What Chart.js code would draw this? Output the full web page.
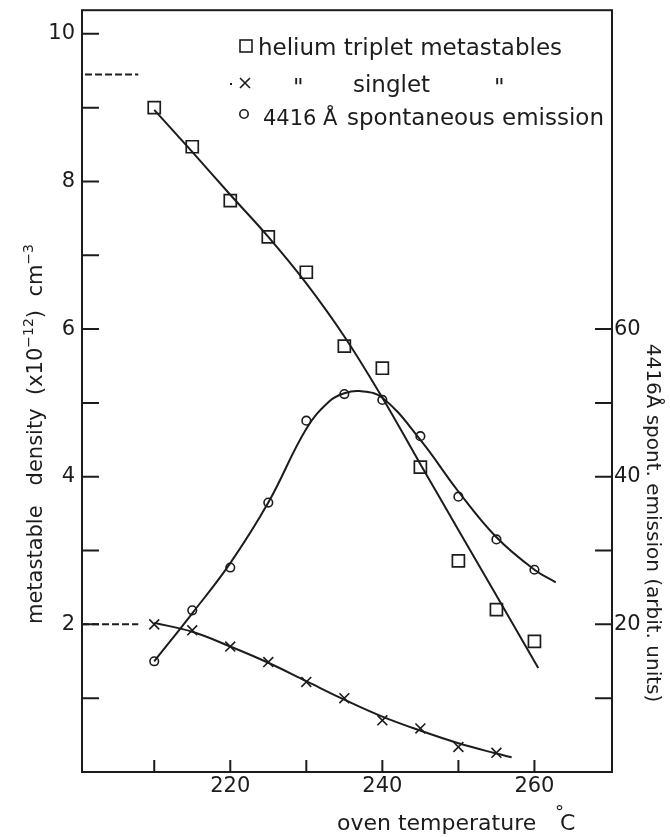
<!DOCTYPE html>
<html><head><meta charset="utf-8">
<script src="https://cdn.jsdelivr.net/npm/chart.js@4.4.1/dist/chart.umd.min.js"></script>
<style>html,body{margin:0;padding:0;background:#fff}canvas{display:block}</style>
</head><body>
<canvas id="c" width="670" height="837"></canvas>
<script>
const INK = '#1c1c1c';
const FONT = "'DejaVu Sans', sans-serif";

// measured markers
const tripletTemps = [210,215,220,225,230,235,240,245,250,255,260];
const tripletDensity = [9.0,8.47,7.74,7.25,6.77,5.77,5.47,4.13,2.86,2.2,1.77];
const singletTemps = [210,215,220,225,230,235,240,245,250,255];
const singletDensity = [2.0,1.92,1.70,1.49,1.22,1.0,0.70,0.59,0.34,0.26];
const emissionTemps = [210,215,220,225,230,235,240,245,250,255,260];
const emissionValues = [15,21.9,27.7,36.5,47.6,51.2,50.4,45.5,37.3,31.5,27.4];

// hand-drawn fit curves
const tripletFitTemps = [210,215,220,225,230,235,240,245,250,255,260.5];
const tripletFitValues = [8.97,8.4,7.82,7.25,6.62,5.9,5.07,4.17,3.28,2.39,1.41];
const singletFitTemps = [210,215,220,225,230,235,240,245,250,255,257];
const singletFitValues = [2.02,1.9,1.70,1.48,1.23,0.98,0.75,0.56,0.39,0.25,0.2];
const emissionFitTemps = [210,215,220,225,230,233,235,237,240,245,250,255,260,262.8];
const emissionFitValues = [15,21.5,28.3,36.5,46.5,50.2,51.3,51.6,50.7,45,38,31.8,27.4,25.7];

// dashed reference levels at the left edge
const dashLevels = [9.45, 2.0];
const dashFrom = [200.9, 200.5];
const dashTo = [207.9, 207.9];

// ticks
const xTickValues = [210,220,230,240,250,260];
const xTickLabels = [220,240,260];
const yTickValues = [1,2,3,4,5,6,7,8,9,10];
const yTickLabels = [2,4,6,8,10];
const y2TickValues = [10,20,30,40,50,60];
const y2TickLabels = [20,40,60];

const pts = (xs, ys) => xs.map((x,i)=>({x, y: ys[i]}));

const datasets = [
  {data: pts(tripletFitTemps, tripletFitValues), showLine:true, pointRadius:0, borderColor:INK, borderWidth:2, tension:0.4, yAxisID:'y'},
  {data: pts(singletFitTemps, singletFitValues), showLine:true, pointRadius:0, borderColor:INK, borderWidth:2, tension:0.4, yAxisID:'y'},
  {data: pts(emissionFitTemps, emissionFitValues), showLine:true, pointRadius:0, borderColor:INK, borderWidth:2, tension:0.4, yAxisID:'y2'},
  {data: pts(tripletTemps, tripletDensity), showLine:false, pointStyle:'rect', pointRadius:8.5, pointBorderWidth:1.7, pointBorderColor:INK, pointBackgroundColor:'rgba(0,0,0,0)', yAxisID:'y'},
  {data: pts(singletTemps, singletDensity), showLine:false, pointStyle:'crossRot', pointRadius:7, pointBorderWidth:1.6, pointBorderColor:INK, yAxisID:'y'},
  {data: pts(emissionTemps, emissionValues), showLine:false, pointStyle:'circle', pointRadius:4.3, pointBorderWidth:1.6, pointBorderColor:INK, pointBackgroundColor:'rgba(0,0,0,0)', yAxisID:'y2'},
];
dashLevels.forEach((lv,i)=>{
  datasets.push({data:[{x:dashFrom[i],y:lv},{x:dashTo[i],y:lv}], showLine:true, pointRadius:0, borderColor:INK, borderWidth:2, borderDash:[7,3], yAxisID:'y'});
});

const tickFont = {family: FONT, size: 21};

const decor = {
  id:'decor',
  afterDraw(chart){
    const ctx = chart.ctx, a = chart.chartArea;
    const sx = chart.scales.x, sy = chart.scales.y, sy2 = chart.scales.y2;
    ctx.save();
    ctx.strokeStyle = INK; ctx.fillStyle = INK; ctx.lineWidth = 2;
    ctx.strokeRect(a.left, a.top, a.right - a.left, a.bottom - a.top);
    ctx.beginPath();
    xTickValues.forEach(v=>{const p = sx.getPixelForValue(v); ctx.moveTo(p, a.bottom); ctx.lineTo(p, a.bottom-12);});
    yTickValues.forEach(v=>{const p = sy.getPixelForValue(v); ctx.moveTo(a.left, p); ctx.lineTo(a.left+17, p);});
    y2TickValues.forEach(v=>{const p = sy2.getPixelForValue(v); ctx.moveTo(a.right, p); ctx.lineTo(a.right-17, p);});
    ctx.stroke();

    // legend
    ctx.lineWidth = 1.6;
    ctx.font = `23px ${FONT}`;
    ctx.textBaseline = 'alphabetic';
    ctx.strokeRect(240, 40, 12, 12);
    ctx.fillText('helium triplet metastables', 258, 55);
    ctx.beginPath();
    ctx.moveTo(240, 78); ctx.lineTo(250, 88); ctx.moveTo(250, 78); ctx.lineTo(240, 88);
    ctx.stroke();
    ctx.fillRect(230, 83, 2, 2);
    ctx.fillText('"', 293, 95);
    ctx.fillText('singlet', 353, 92);
    ctx.fillText('"', 494, 95);
    ctx.beginPath(); ctx.arc(244, 114, 4.2, 0, Math.PI*2); ctx.stroke();
    ctx.font = `21px ${FONT}`;
    ctx.fillText('4416 Å', 263, 125);
    ctx.font = `23px ${FONT}`;
    ctx.fillText('spontaneous emission', 347, 125);

    // left title (rotated, reads bottom to top)
    ctx.save();
    ctx.translate(42, 434);
    ctx.rotate(-Math.PI/2);
    const big = `21px ${FONT}`, small = `14px ${FONT}`;
    const pieces = [
      ['metastable', big, 0], ['   ', big, 0], ['density', big, 0], ['  ', big, 0], ['(x10', big, 0],
      ['\u221212', small, -9], [')', big, 0], ['  ', big, 0], ['cm', big, 0], ['\u22123', small, -9]
    ];
    let total = 0;
    pieces.forEach(p=>{ctx.font = p[1]; total += ctx.measureText(p[0]).width;});
    let cx = -total/2;
    pieces.forEach(p=>{ctx.font = p[1]; ctx.fillText(p[0], cx, p[2]); cx += ctx.measureText(p[0]).width;});
    ctx.restore();

    // right title (rotated, reads top to bottom)
    ctx.save();
    ctx.translate(647, 523);
    ctx.rotate(Math.PI/2);
    ctx.font = `20px ${FONT}`;
    ctx.textAlign = 'center';
    ctx.fillText('4416Å spont. emission (arbit. units)', 0, 0);
    ctx.restore();

    // x title
    ctx.font = `22px ${FONT}`;
    ctx.textAlign = 'left';
    ctx.fillText('oven temperature', 337, 830);
    ctx.fillText('C', 560, 830);
    ctx.font = `18px ${FONT}`;
    ctx.fillText('°', 555, 818);
    ctx.restore();
  }
};

new Chart(document.getElementById('c'), {
  type: 'scatter',
  data: {datasets},
  options: {
    responsive:false, animation:false, devicePixelRatio:1,
    layout:{padding:{top:8, left:0, right:0, bottom:0}},
    plugins:{legend:{display:false}, tooltip:{enabled:false}},
    scales:{
      x:{type:'linear', position:'bottom', min:200.5, max:270.2,
        afterBuildTicks: s => { s.ticks = xTickValues.map(v=>({value:v})); },
        afterFit: s => { s.height = 65; s.paddingLeft = 0; s.paddingRight = 0; },
        grid:{display:false, drawTicks:false}, border:{display:false},
        ticks:{autoSkip:false, maxRotation:0, color:INK, font:tickFont, padding:2,
          callback: v => xTickLabels.includes(v) ? String(v) : ''}},
      y:{type:'linear', position:'left', min:0, max:10.32,
        afterBuildTicks: s => { s.ticks = yTickValues.map(v=>({value:v})); },
        afterFit: s => { s.width = 82; s.paddingTop = 0; s.paddingBottom = 0; },
        grid:{display:false, drawTicks:false}, border:{display:false},
        ticks:{autoSkip:false, color:INK, font:tickFont, padding:7,
          callback: v => yTickLabels.includes(v) ? String(v) : ''}},
      y2:{type:'linear', position:'right', min:0, max:103.2,
        afterBuildTicks: s => { s.ticks = y2TickValues.map(v=>({value:v})); },
        afterFit: s => { s.width = 58; s.paddingTop = 0; s.paddingBottom = 0; },
        grid:{display:false, drawTicks:false}, border:{display:false},
        ticks:{autoSkip:false, color:INK, font:tickFont, padding:2,
          callback: v => y2TickLabels.includes(v) ? String(v) : ''}}
    }
  },
  plugins:[decor]
});
</script>
</body></html>
